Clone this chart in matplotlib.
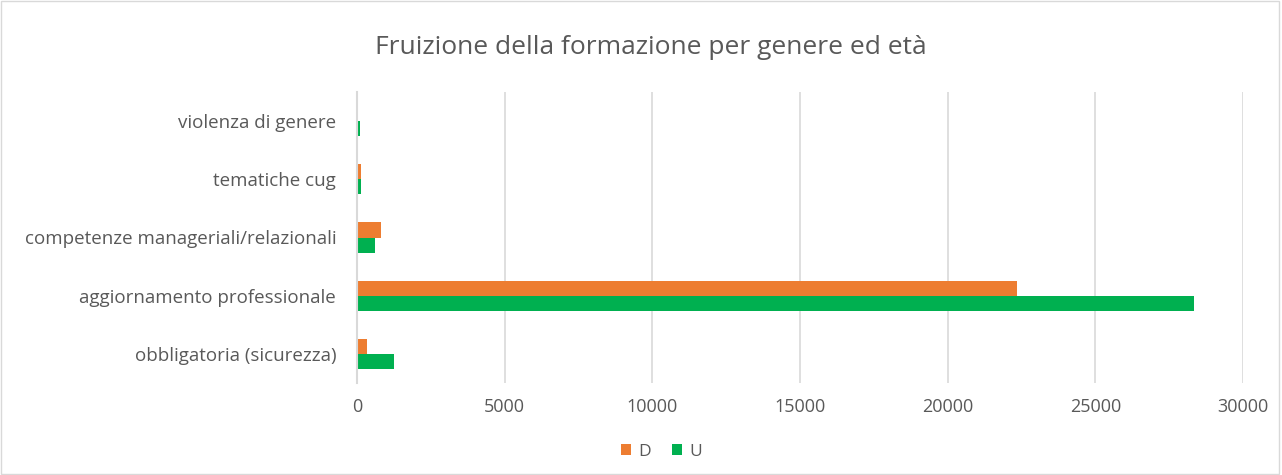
import matplotlib.pyplot as plt
import numpy as np
from matplotlib.patches import Rectangle

# data (bottom to top as drawn)
categories = ['obbligatoria (sicurezza)', 'aggiornamento professionale',
              'competenze manageriali/relazionali', 'tematiche cug', 'violenza di genere']
donne = [330, 22340, 800, 140, 0]
uomini = [1250, 28350, 620, 120, 100]
x_ticks = [0, 5000, 10000, 15000, 20000, 25000, 30000]

plt.rcParams['font.family'] = ['Open Sans', 'DejaVu Sans']
text_col = '#595959'

fig = plt.figure(figsize=(12.82, 4.75), dpi=100)
ax = fig.add_axes([357 / 1282, 1 - 383 / 475, (1243 - 357) / 1282, (383 - 92) / 475])

y = np.arange(len(categories))
h = 0.26
ax.barh(y + h / 2, donne, height=h, color='#ED7D31', label='D', zorder=3)
ax.barh(y - h / 2, uomini, height=h, color='#00B050', label='U', zorder=3)

ax.set_xlim(0, 30000)
ax.set_ylim(-0.5, len(categories) - 0.5)
ax.set_xticks(x_ticks)
ax.set_yticks(y)
ax.set_yticklabels(categories)
ax.tick_params(axis='y', length=0, labelsize=13.5, colors=text_col, pad=15)
ax.tick_params(axis='x', length=0, labelsize=13, colors=text_col, pad=11)
ax.grid(axis='x', color='#D9D9D9', linewidth=1.2, zorder=0)
for s in ['top', 'right', 'bottom']:
    ax.spines[s].set_visible(False)
ax.spines['left'].set_color('#D9D9D9')
ax.spines['left'].set_linewidth(1.5)
ax.spines['left'].set_zorder(4)

fig.text(0.508, 1 - 47 / 475, 'Fruizione della formazione per genere ed età',
         ha='center', va='center', fontsize=19, color=text_col)

fig.legend(loc='center', bbox_to_anchor=(0.516, 1 - 452 / 475), ncol=2, frameon=False,
           handlelength=0.6, handleheight=0.6, handletextpad=0.4, columnspacing=1.2,
           fontsize=12.5, labelcolor=text_col)

fig.patches.append(Rectangle((0.001, 0.003), 0.997, 0.994, transform=fig.transFigure,
                             fill=False, edgecolor='#D9D9D9', linewidth=1))

fig.savefig('out.png', dpi=100)
